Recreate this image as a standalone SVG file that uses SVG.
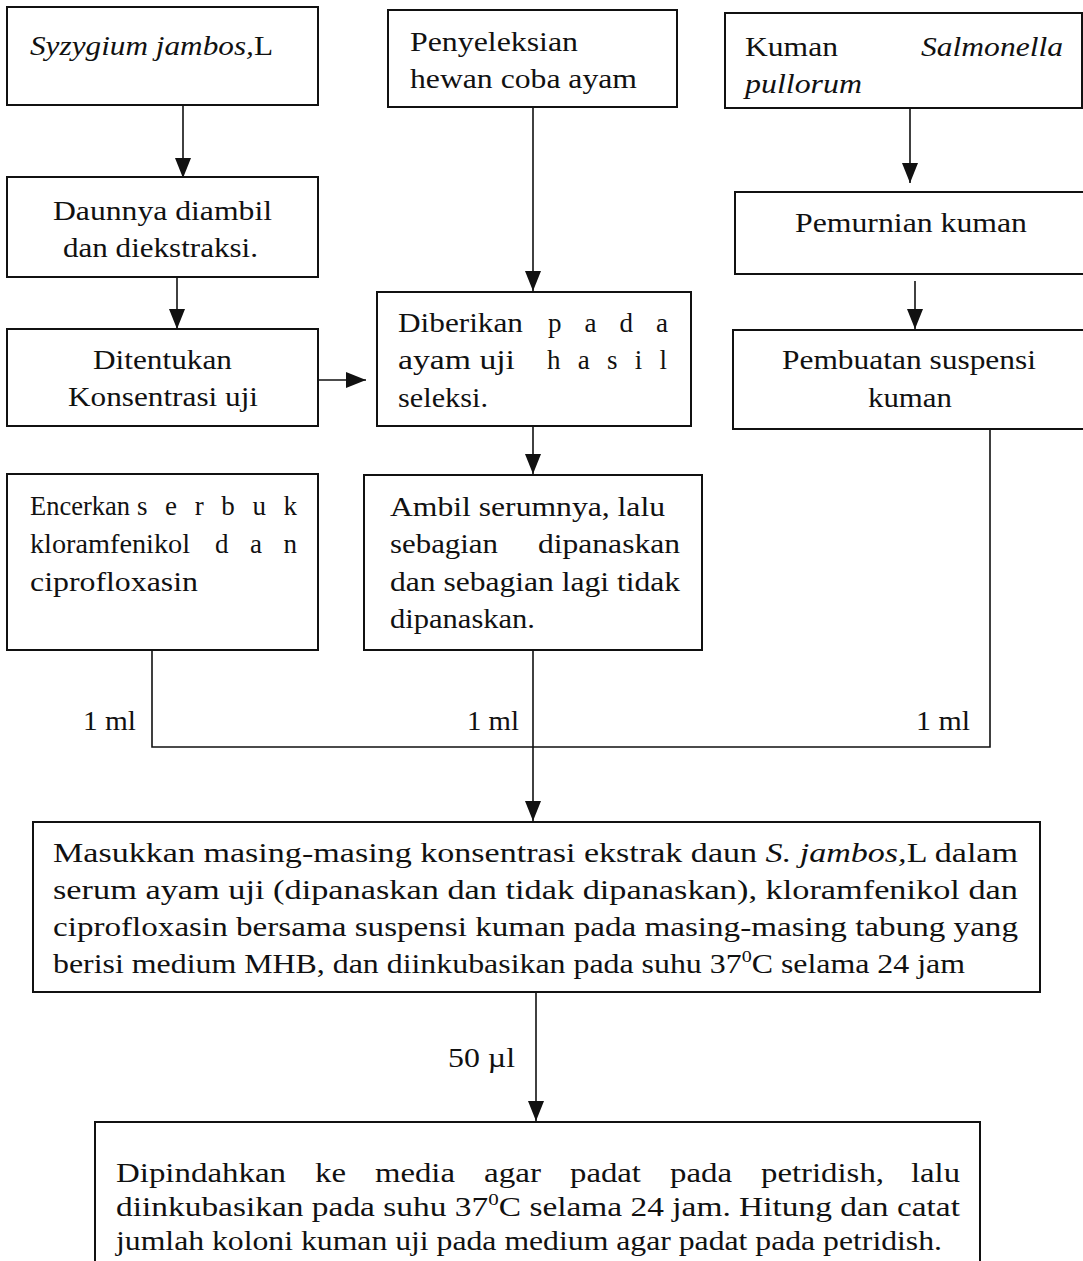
<svg xmlns="http://www.w3.org/2000/svg" width="1083" height="1261" viewBox="0 0 1083 1261">
<style>
.box{fill:#fff;stroke:#111;stroke-width:2}
.ln{fill:none;stroke:#111;stroke-width:1.6}
text{font-family:'Liberation Serif', 'Times New Roman', serif;font-size:27px;fill:#111}
.i{font-style:italic}
.sup{font-size:17px}
</style>
<defs>
<marker id="ah" markerUnits="userSpaceOnUse" markerWidth="20" markerHeight="16" refX="20" refY="8" orient="auto">
<path d="M0,0 L20,8 L0,16 z" fill="#111"/>
</marker>
</defs>
<rect width="1083" height="1261" fill="#fff"/>
<g id="connectors">
<path class="ln" d="M183,105 V178" marker-end="url(#ah)"/>
<path class="ln" d="M177,277 V329" marker-end="url(#ah)"/>
<path class="ln" d="M318,380 H366" marker-end="url(#ah)"/>
<path class="ln" d="M533,107 V291" marker-end="url(#ah)"/>
<path class="ln" d="M533,426 V474" marker-end="url(#ah)"/>
<path class="ln" d="M910,108 V183" marker-end="url(#ah)"/>
<path class="ln" d="M915,281 V329" marker-end="url(#ah)"/>
<path class="ln" d="M152,650 V747 H990 V429"/>
<path class="ln" d="M533,650 V821" marker-end="url(#ah)"/>
<path class="ln" d="M536,992 V1121" marker-end="url(#ah)"/>
<text x="83" y="730" textLength="53" lengthAdjust="spacingAndGlyphs">1 ml</text>
<text x="467" y="730" textLength="52" lengthAdjust="spacingAndGlyphs">1 ml</text>
<text x="916" y="730" textLength="54" lengthAdjust="spacingAndGlyphs">1 ml</text>
<text x="448" y="1067" textLength="67" lengthAdjust="spacingAndGlyphs">50 µl</text>
</g>
<g id="n1">
<rect class="box" x="7" y="7" width="311" height="98"/>
<text x="30" y="55" textLength="243" lengthAdjust="spacingAndGlyphs"><tspan class="i">Syzygium jambos,</tspan>L</text>
</g>
<g id="n2">
<rect class="box" x="388" y="10" width="289" height="97"/>
<text x="410" y="51" textLength="168" lengthAdjust="spacingAndGlyphs">Penyeleksian</text>
<text x="410" y="88" textLength="227" lengthAdjust="spacingAndGlyphs">hewan coba ayam</text>
</g>
<g id="n3">
<rect class="box" x="725" y="13" width="357" height="95"/>
<text x="745" y="56" textLength="93" lengthAdjust="spacingAndGlyphs">Kuman</text>
<text x="921" y="56" class="i" textLength="142" lengthAdjust="spacingAndGlyphs">Salmonella</text>
<text x="745" y="93" class="i" textLength="117" lengthAdjust="spacingAndGlyphs">pullorum</text>
</g>
<g id="n4">
<rect class="box" x="7" y="177" width="311" height="100"/>
<text x="53" y="220" textLength="219" lengthAdjust="spacingAndGlyphs">Daunnya diambil</text>
<text x="63" y="257" textLength="195" lengthAdjust="spacingAndGlyphs">dan diekstraksi.</text>
</g>
<g id="n5">
<rect class="box" x="735" y="192" width="355" height="82"/>
<text x="795" y="232" textLength="232" lengthAdjust="spacingAndGlyphs">Pemurnian kuman</text>
</g>
<g id="n6">
<rect class="box" x="7" y="329" width="311" height="97"/>
<text x="93" y="369" textLength="139" lengthAdjust="spacingAndGlyphs">Ditentukan</text>
<text x="68" y="406" textLength="190" lengthAdjust="spacingAndGlyphs">Konsentrasi uji</text>
</g>
<g id="n7">
<rect class="box" x="377" y="292" width="314" height="134"/>
<text x="398" y="332" textLength="125" lengthAdjust="spacingAndGlyphs">Diberikan</text>
<text x="548" y="332" textLength="120" lengthAdjust="spacing">p a d a</text>
<text x="398" y="369" textLength="117" lengthAdjust="spacingAndGlyphs">ayam uji</text>
<text x="547" y="369" textLength="120" lengthAdjust="spacing">h a s i l</text>
<text x="398" y="407" textLength="90" lengthAdjust="spacingAndGlyphs">seleksi.</text>
</g>
<g id="n8">
<rect class="box" x="733" y="330" width="357" height="99"/>
<text x="782" y="369" textLength="254" lengthAdjust="spacingAndGlyphs">Pembuatan suspensi</text>
<text x="868" y="407" textLength="84" lengthAdjust="spacingAndGlyphs">kuman</text>
</g>
<g id="n9">
<rect class="box" x="7" y="474" width="311" height="176"/>
<text x="30" y="515" textLength="100" lengthAdjust="spacingAndGlyphs">Encerkan</text>
<text x="137" y="515" textLength="160" lengthAdjust="spacing">s e r b u k</text>
<text x="30" y="553" textLength="160" lengthAdjust="spacingAndGlyphs">kloramfenikol</text>
<text x="215" y="553" textLength="82" lengthAdjust="spacing">d a n</text>
<text x="30" y="591" textLength="168" lengthAdjust="spacingAndGlyphs">ciprofloxasin</text>
</g>
<g id="n10">
<rect class="box" x="364" y="475" width="338" height="175"/>
<text x="390" y="516" textLength="275" lengthAdjust="spacingAndGlyphs">Ambil serumnya, lalu</text>
<text x="390" y="553" textLength="108" lengthAdjust="spacingAndGlyphs">sebagian</text>
<text x="538" y="553" textLength="142" lengthAdjust="spacingAndGlyphs">dipanaskan</text>
<text x="390" y="591" textLength="290" lengthAdjust="spacingAndGlyphs">dan sebagian lagi tidak</text>
<text x="390" y="628" textLength="145" lengthAdjust="spacingAndGlyphs">dipanaskan.</text>
</g>
<g id="n11">
<rect class="box" x="33" y="822" width="1007" height="170"/>
<text x="53" y="862" textLength="965" lengthAdjust="spacingAndGlyphs">Masukkan masing-masing konsentrasi  ekstrak daun <tspan class="i">S. jambos,</tspan>L dalam</text>
<text x="53" y="899" textLength="965" lengthAdjust="spacingAndGlyphs">serum ayam uji (dipanaskan dan tidak dipanaskan), kloramfenikol dan</text>
<text x="53" y="936" textLength="965" lengthAdjust="spacingAndGlyphs">ciprofloxasin  bersama  suspensi kuman pada masing-masing tabung yang</text>
<text x="53" y="973" textLength="912" lengthAdjust="spacingAndGlyphs">berisi medium MHB, dan diinkubasikan pada suhu 37<tspan class="sup" dy="-11">0</tspan><tspan dy="11">C selama 24 jam</tspan></text>
</g>
<g id="n12">
<rect class="box" x="95" y="1122" width="885" height="160"/>
<text x="116" y="1182" textLength="170" lengthAdjust="spacingAndGlyphs">Dipindahkan</text>
<text x="315" y="1182" textLength="31" lengthAdjust="spacingAndGlyphs">ke</text>
<text x="375" y="1182" textLength="80" lengthAdjust="spacingAndGlyphs">media</text>
<text x="484" y="1182" textLength="57" lengthAdjust="spacingAndGlyphs">agar</text>
<text x="570" y="1182" textLength="71" lengthAdjust="spacingAndGlyphs">padat</text>
<text x="670" y="1182" textLength="62" lengthAdjust="spacingAndGlyphs">pada</text>
<text x="761" y="1182" textLength="123" lengthAdjust="spacingAndGlyphs">petridish,</text>
<text x="911" y="1182" textLength="49" lengthAdjust="spacingAndGlyphs">lalu</text>
<text x="116" y="1216" textLength="844" lengthAdjust="spacingAndGlyphs">diinkubasikan pada suhu 37<tspan class="sup" dy="-11">0</tspan><tspan dy="11">C selama 24 jam. Hitung dan catat</tspan></text>
<text x="116" y="1250" textLength="826" lengthAdjust="spacingAndGlyphs">jumlah koloni kuman uji pada medium agar padat pada petridish.</text>
</g>
</svg>
